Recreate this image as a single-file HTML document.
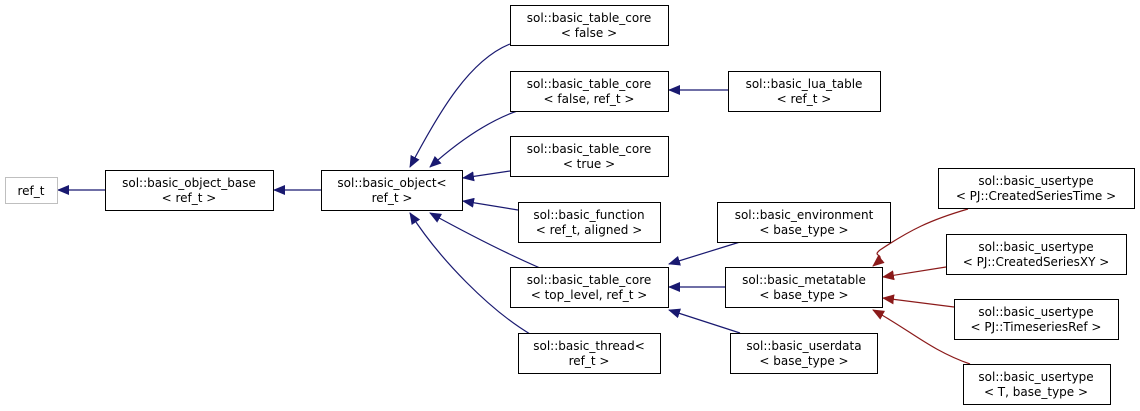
<!DOCTYPE html>
<html><head><meta charset="utf-8"><style>
html,body{margin:0;padding:0;background:#fff;width:1140px;height:411px;overflow:hidden}
text{font-family:"DejaVu Sans","Liberation Sans",sans-serif;font-size:12px;fill:#000;text-anchor:middle}
</style></head><body>
<svg width="1140" height="411" viewBox="0 0 1140 411" xmlns="http://www.w3.org/2000/svg">
<defs>
<marker id="ab" markerWidth="12" markerHeight="10" refX="11" refY="5" orient="auto" markerUnits="userSpaceOnUse"><path d="M0,0 L12,5 L0,10 z" fill="#191970"/></marker>
<marker id="ar" markerWidth="12" markerHeight="10" refX="11" refY="5" orient="auto" markerUnits="userSpaceOnUse"><path d="M0,0 L12,5 L0,10 z" fill="#8b1a1a"/></marker>
</defs>
<g fill="none" stroke="#191970" stroke-width="1.2">
<path d="M105,190 L58,190" marker-end="url(#ab)"/>
<path d="M321,190 L274,190" marker-end="url(#ab)"/>
<path d="M510,44 C470,60 440,110 410,167" marker-end="url(#ab)"/>
<path d="M520,110 C490,120 460,140 430,167" marker-end="url(#ab)"/>
<path d="M510,171 L463,178" marker-end="url(#ab)"/>
<path d="M518,210 L463,201" marker-end="url(#ab)"/>
<path d="M540,268 C510,255 470,235 430,213" marker-end="url(#ab)"/>
<path d="M530,334 C490,310 440,260 410,213" marker-end="url(#ab)"/>
<path d="M728,90 L669,90" marker-end="url(#ab)"/>
<path d="M740,242 L669,264" marker-end="url(#ab)"/>
<path d="M725,287 L669,287" marker-end="url(#ab)"/>
<path d="M740,333 L669,310" marker-end="url(#ab)"/>
</g>
<g fill="none" stroke="#8b1a1a" stroke-width="1.2">
<path d="M968,209 C930,220 910,230 880,250 C870,258 890,252 873,266" marker-end="url(#ar)"/>
<path d="M946,267 L883,277" marker-end="url(#ar)"/>
<path d="M954,307 L883,298" marker-end="url(#ar)"/>
<path d="M970,364 C930,350 910,330 873,310" marker-end="url(#ar)"/>
</g>
<g fill="#fff" stroke="#000" stroke-width="1">
<rect x="5.5" y="177.5" width="52" height="26" stroke="#bfbfbf"/>
<rect x="105.5" y="170.5" width="168" height="40"/>
<rect x="321.5" y="170.5" width="141" height="40"/>
<rect x="510.5" y="5.5" width="158" height="40"/>
<rect x="510.5" y="71.5" width="158" height="40"/>
<rect x="728.5" y="71.5" width="152" height="40"/>
<rect x="510.5" y="136.5" width="158" height="40"/>
<rect x="518.5" y="202.5" width="142" height="40"/>
<rect x="510.5" y="267.5" width="158" height="40"/>
<rect x="518.5" y="333.5" width="142" height="40"/>
<rect x="717.5" y="202.5" width="173" height="40"/>
<rect x="725.5" y="267.5" width="157" height="40"/>
<rect x="730.5" y="333.5" width="147" height="40"/>
<rect x="938.5" y="168.5" width="196" height="40"/>
<rect x="946.5" y="234.5" width="180" height="40"/>
<rect x="954.5" y="299.5" width="164" height="40"/>
<rect x="963.5" y="364.5" width="147" height="40"/>
</g>
<text x="31" y="195">ref_t</text>
<text x="189" y="187">sol::basic_object_base</text><text x="189" y="202">&lt; ref_t &gt;</text>
<text x="392" y="187">sol::basic_object&lt;</text><text x="392" y="202">ref_t &gt;</text>
<text x="589" y="22">sol::basic_table_core</text><text x="589" y="37">&lt; false &gt;</text>
<text x="589" y="88">sol::basic_table_core</text><text x="589" y="103">&lt; false, ref_t &gt;</text>
<text x="804" y="88">sol::basic_lua_table</text><text x="804" y="103">&lt; ref_t &gt;</text>
<text x="589" y="153">sol::basic_table_core</text><text x="589" y="168">&lt; true &gt;</text>
<text x="589" y="219">sol::basic_function</text><text x="589" y="234">&lt; ref_t, aligned &gt;</text>
<text x="589" y="284">sol::basic_table_core</text><text x="589" y="299">&lt; top_level, ref_t &gt;</text>
<text x="589" y="350">sol::basic_thread&lt;</text><text x="589" y="365">ref_t &gt;</text>
<text x="804" y="219">sol::basic_environment</text><text x="804" y="234">&lt; base_type &gt;</text>
<text x="804" y="284">sol::basic_metatable</text><text x="804" y="299">&lt; base_type &gt;</text>
<text x="804" y="350">sol::basic_userdata</text><text x="804" y="365">&lt; base_type &gt;</text>
<text x="1036" y="185">sol::basic_usertype</text><text x="1036" y="200">&lt; PJ::CreatedSeriesTime &gt;</text>
<text x="1036" y="251">sol::basic_usertype</text><text x="1036" y="266">&lt; PJ::CreatedSeriesXY &gt;</text>
<text x="1036" y="316">sol::basic_usertype</text><text x="1036" y="331">&lt; PJ::TimeseriesRef &gt;</text>
<text x="1036" y="381">sol::basic_usertype</text><text x="1036" y="396">&lt; T, base_type &gt;</text>
</svg>
</body></html>
